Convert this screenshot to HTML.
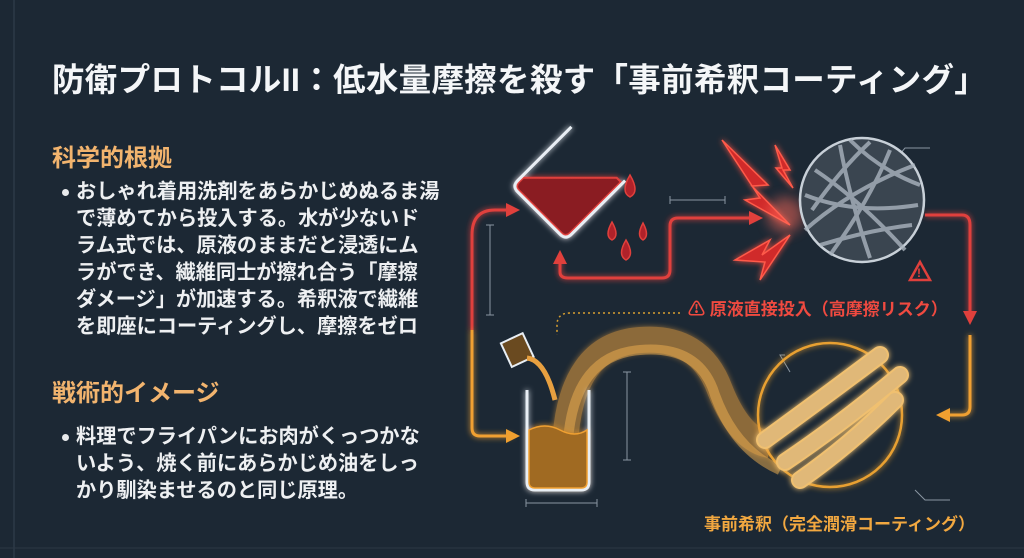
<!DOCTYPE html>
<html><head><meta charset="utf-8"><style>
html,body{margin:0;padding:0}
body{width:1024px;height:558px;overflow:hidden;background:#1c2834;position:relative;font-family:"Liberation Sans","Noto Sans CJK JP",sans-serif}
.t{position:absolute;white-space:nowrap}
#title{left:52px;top:54px;font-size:32.5px;font-weight:bold;color:#f4f6f8;letter-spacing:0.3px}
.h{font-size:24px;font-weight:bold;color:#f2b46e;left:52px}
.b{font-size:20.2px;font-weight:bold;color:#eef0f2;left:76px;line-height:27px}
.dot{position:absolute;left:62px;width:7px;height:7px;border-radius:50%;background:#e8eaec}
</style></head><body>
<svg width="1024" height="558" style="position:absolute;left:0;top:0">
<defs>
<filter id="g" x="-50%" y="-50%" width="200%" height="200%"><feGaussianBlur stdDeviation="3" result="b"/><feMerge><feMergeNode in="b"/><feMergeNode in="SourceGraphic"/></feMerge></filter>
<filter id="gb" x="-50%" y="-50%" width="200%" height="200%"><feGaussianBlur stdDeviation="6"/></filter>
</defs>
<line x1="14" y1="0" x2="14" y2="558" stroke="#34424f" stroke-width="1"/>
<line x1="0" y1="548" x2="1024" y2="548" stroke="#2c3844" stroke-width="1"/>
<g stroke="#e0403c" stroke-width="3" fill="none" filter="url(#g)">
<path d="M472 330 V235 Q472 210 495 210 H512"/>
<path d="M560 260 V272 Q560 278 568 278 H662 Q670 278 670 270 V226 Q670 218 678 218 H755"/>
<path d="M925 215 H962 Q970 215 970 225 V315"/>
</g>
<g fill="#e0403c">
<path d="M520 210 L506 203 L506 217Z"/><path d="M560 250 L553 264 L567 264Z"/><path d="M763 218 L749 211 L749 225Z"/><path d="M970 325 L963 311 L977 311Z"/>
</g>
<g stroke="#f0a030" stroke-width="3" fill="none" filter="url(#g)">
<path d="M472 330 V428 Q472 436 480 436 H512"/>
<path d="M970 335 V407 Q970 415 962 415 H945"/>
</g>
<g fill="#f0a030"><path d="M520 436 L506 429 L506 443Z"/><path d="M936 415 L950 408 L950 422Z"/></g>
<path d="M680 313 H570 Q557 313 557 325 V335" stroke="#d9a030" stroke-width="1.5" stroke-dasharray="2 3" fill="none"/>
<g stroke="#8a96a2" stroke-width="1" fill="none">
<path d="M490 225 V315 M486 225 H494 M486 315 H494"/>
<path d="M670 200 H725 M670 196 V204 M725 196 V204"/>
<path d="M627 372 V460 M623 372 H631 M623 460 H631"/>
<path d="M526 503 H597 M526 499 V507 M597 499 V507"/>
<path d="M895 160 L905 148 H930"/><path d="M785 355 H780 L790 372"/><path d="M915 490 L925 500 H950"/>
</g>
<g transform="translate(570,182) rotate(45)" filter="url(#g)">
<path d="M-36 30 L30 -36 H36 V36 Q36 42 30 42 H-30 Q-36 42 -36 36Z" fill="#8a1a22" stroke="#e0403c" stroke-width="2"/>
<path d="M-38 -40 V36 Q-38 44 -30 44 H30 Q38 44 38 36 V-40" stroke="#e8eef4" stroke-width="3" fill="none"/>
</g>
<g fill="#b0222a" stroke="#e0403c" stroke-width="1.5">
<path d="M630 175 Q620 192 630 197 Q640 192 630 175Z"/>
<path d="M612 222 Q604 236 612 240 Q620 236 612 222Z"/>
<path d="M643 223 Q636 236 643 240 Q650 236 643 223Z"/>
<path d="M626 240 Q617 255 626 260 Q635 255 626 240Z"/>
</g>
<g fill="#d02a2a" stroke="#ff5a4a" stroke-width="1.5" filter="url(#g)">
<path d="M722 140 L768 185 L752 186 L790 225 L745 200 L760 198Z"/>
<path d="M735 260 L770 240 L762 255 L790 235 L760 280 L765 262Z"/>
<path d="M775 145 L790 170 L783 170 L793 188 L776 168 L782 168Z"/>
</g>
<circle cx="785" cy="215" r="18" fill="#ff6a5a" opacity="0.5" filter="url(#gb)"/>
<circle cx="862" cy="200" r="62" fill="#3a4550" stroke="#c8d0d8" stroke-width="2.5"/>
<g stroke="#aab4be" stroke-width="4" fill="none" opacity="0.8">
<path d="M805 230 Q850 190 915 165"/><path d="M815 170 Q860 200 905 250"/><path d="M830 255 Q870 200 890 150"/><path d="M805 195 Q855 215 918 205"/><path d="M840 145 Q850 200 870 258"/>
<path d="M820 245 Q870 230 912 225"/><path d="M850 140 Q880 170 920 185"/><path d="M812 210 Q840 170 870 142"/>
</g>
<path d="M920 262 L910 280 H930Z" fill="none" stroke="#e0403c" stroke-width="2.5"/>
<text x="917" y="277" font-size="12" font-weight="bold" fill="#e0403c">!</text>
<circle cx="830" cy="415" r="72" fill="none" stroke="#e8a030" stroke-width="2.5" filter="url(#g)"/>
<path d="M565 445 Q570 345 640 340 Q700 335 720 390 Q740 440 770 445" stroke="#e8a040" stroke-width="26" fill="none" opacity="0.55" filter="url(#g)"/>
<path d="M568 440 Q575 355 640 350 Q700 345 715 395 Q735 450 780 470" stroke="#f0b050" stroke-width="10" fill="none" opacity="0.5"/>
<g stroke="#f0c070" stroke-width="18" stroke-linecap="round" fill="none" filter="url(#g)">
<path d="M765 440 Q820 400 880 355"/><path d="M785 462 Q840 425 900 375"/><path d="M800 480 Q850 445 895 400"/>
</g>
<g stroke="#e0b878" stroke-width="14" stroke-linecap="round" fill="none">
<path d="M765 440 Q820 400 880 355"/><path d="M785 462 Q840 425 900 375"/><path d="M800 480 Q850 445 895 400"/>
</g>
<g filter="url(#g)">
<path d="M527 390 V482 Q527 490 535 490 H581 Q589 490 589 482 V390" stroke="#e8eef4" stroke-width="3" fill="none"/>
<path d="M529 430 Q545 422 560 430 Q575 438 587 430 V482 Q587 488 581 488 H535 Q529 488 529 482Z" fill="#a06a20" stroke="#f0a030" stroke-width="1.5"/>
</g>
<g transform="translate(515,350) rotate(-25)"><rect x="-10" y="-12" width="24" height="26" fill="#6a4a20" stroke="#e8eef4" stroke-width="2"/></g>
<path d="M527 358 Q545 360 555 400" stroke="#e8a040" stroke-width="5" fill="none"/>
</svg>
<div class="t" id="title">防衛プロトコルII：低水量摩擦を殺す「事前希釈コーティング」</div>
<div class="t h" style="top:138px">科学的根拠</div>
<div class="dot" style="top:189px"></div>
<div class="t b" style="top:179px">おしゃれ着用洗剤をあらかじめぬるま湯<br>で薄めてから投入する。水が少ないド<br>ラム式では、原液のままだと浸透にム<br>ラができ、繊維同士が擦れ合う「摩擦<br>ダメージ」が加速する。希釈液で繊維<br>を即座にコーティングし、摩擦をゼロ</div>
<div class="t h" style="top:373px">戦術的イメージ</div>
<div class="dot" style="top:434px"></div>
<div class="t b" style="top:424px">料理でフライパンにお肉がくっつかな<br>いよう、焼く前にあらかじめ油をしっ<br>かり馴染ませるのと同じ原理。</div>
<div class="t" style="left:688px;top:295px;font-size:17px;font-weight:bold;color:#f04a40">⚠ 原液直接投入（高摩擦リスク）</div>
<div class="t" style="left:704px;top:510px;font-size:17px;font-weight:bold;color:#f2a840">事前希釈（完全潤滑コーティング）</div>
</body></html>
